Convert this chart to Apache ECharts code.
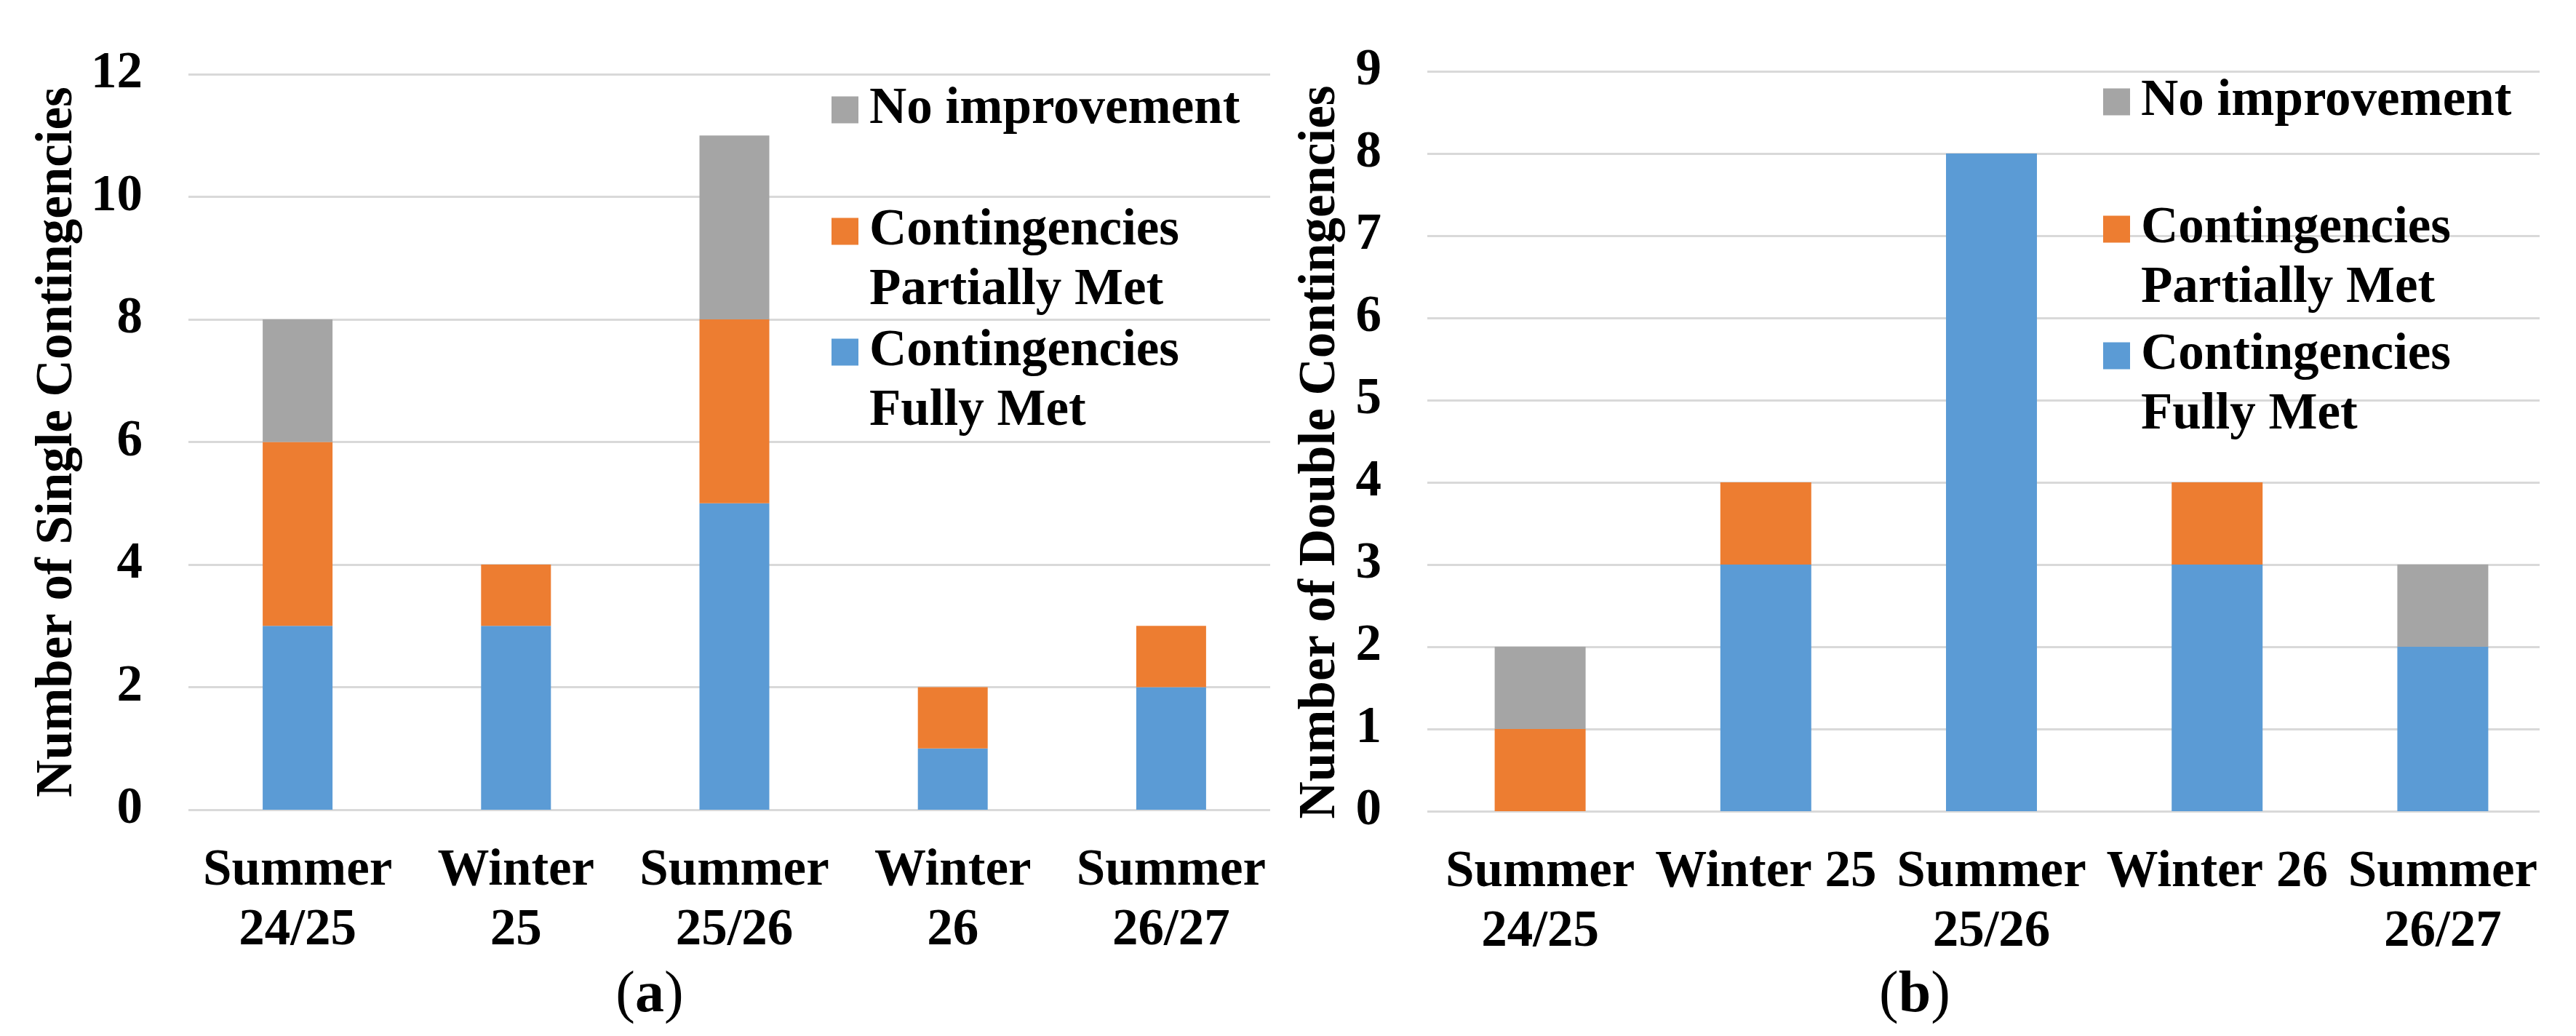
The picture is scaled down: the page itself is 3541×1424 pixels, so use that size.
<!DOCTYPE html>
<html><head><meta charset="utf-8">
<script src="https://cdn.jsdelivr.net/npm/echarts@6/dist/echarts.min.js"></script>
<style>html,body{margin:0;padding:0;background:#fff}#c{width:3541px;height:1424px}</style>
</head><body><div id="c"></div>
<script>
// ---- data ----
const categoriesA = ['Summer\n24/25', 'Winter\n25', 'Summer\n25/26', 'Winter\n26', 'Summer\n26/27'];
const categoriesB = ['Summer\n24/25', 'Winter 25', 'Summer\n25/26', 'Winter 26', 'Summer\n26/27'];
const seriesNames = ['Contingencies Fully Met', 'Contingencies Partially Met', 'No improvement'];
const legendLabels = ['Contingencies\nFully Met', 'Contingencies\nPartially Met', 'No improvement'];
const singleFully   = [3, 3, 5, 1, 2];
const singlePartial = [3, 1, 3, 1, 1];
const singleNone    = [2, 0, 3, 0, 0];
const doubleFully   = [0, 3, 8, 3, 2];
const doublePartial = [1, 1, 0, 1, 0];
const doubleNone    = [1, 0, 0, 0, 1];
const yNameA = 'Number of Single Contingencies';
const yNameB = 'Number of Double Contingencies';
const captionA = 'a';
const captionB = 'b';

// ---- styles ----
const FONT = '"Liberation Serif", "Times New Roman", serif';
const colors = ['#5B9BD5', '#ED7D31', '#A5A5A5'];
const txt = { fontFamily: FONT, fontSize: 71, fontWeight: 'bold', color: '#000' };
const gridLine = { show: true, lineStyle: { color: '#D9D9D9', width: 3 } };

function barAxisY(gridIndex, max, interval, name, nameGap, namePad) {
  return {
    type: 'value', gridIndex, min: 0, max, interval,
    axisLine: { show: false }, axisTick: { show: false }, splitLine: { show: false },
    axisLabel: Object.assign({ margin: 63 }, txt),
    name, nameLocation: 'middle', nameGap,
    nameTextStyle: Object.assign({ padding: namePad }, txt)
  };
}
function lineAxisY(gridIndex, max, interval) {
  return {
    type: 'value', gridIndex, min: 0, max, interval,
    axisLine: { show: false }, axisTick: { show: false }, axisLabel: { show: false },
    splitLine: gridLine
  };
}
function catAxis(gridIndex, data, show) {
  return {
    type: 'category', gridIndex, data, show,
    axisLine: { show: false }, axisTick: { show: false },
    axisLabel: Object.assign({ interval: 0, margin: 44, lineHeight: 82 }, txt)
  };
}
function legendFor(name, left, top) {
  return {
    data: [name], left, top, orient: 'vertical', padding: 0,
    itemWidth: 37, itemHeight: 37, icon: 'rect', selectedMode: false,
    formatter: n => {
      const label = legendLabels[seriesNames.indexOf(n)];
      // multi-line labels: a blank first line keeps the marker level with the first text line
      return label.indexOf('\n') >= 0 ? ' \n' + label : label;
    },
    textStyle: Object.assign({ lineHeight: 82, padding: [0, 0, 0, 10] }, txt)
  };
}
function bars(xi, yi, vals, width) {
  return vals.map((v, i) => ({
    name: seriesNames[i], type: 'bar', stack: 's' + xi, xAxisIndex: xi, yAxisIndex: yi,
    barWidth: width, data: v, itemStyle: { color: colors[i] }, z: 3
  }));
}
function caption(letter, x) {
  return {
    type: 'text', x, y: 1369,
    style: {
      text: '{p|(}{b|' + letter + '}{p|)}', align: 'center', verticalAlign: 'middle',
      rich: {
        p: { fontFamily: FONT, fontSize: 80, fontWeight: 'normal', fill: '#000' },
        b: { fontFamily: FONT, fontSize: 80, fontWeight: 'bold', fill: '#000' }
      }
    }
  };
}

const chart = echarts.init(document.getElementById('c'));
chart.setOption({
  animation: false,
  backgroundColor: '#fff',
  grid: [
    { left: 259, top: 102, width: 1501, height: 1011 },
    { left: 259, top: 102, width: 1487, height: 1011 },
    { left: 1962, top: 98, width: 1551, height: 1017 },
    { left: 1962, top: 98, width: 1529, height: 1017 }
  ],
  xAxis: [
    catAxis(0, categoriesA, true),
    catAxis(1, categoriesA, false),
    catAxis(2, categoriesB, true),
    catAxis(3, categoriesB, false)
  ],
  yAxis: [
    barAxisY(0, 12, 2, yNameA, 144, [0, 0, 0, 0]),
    lineAxisY(1, 12, 2),
    barAxisY(2, 9, 1, yNameB, 111, [0, 30, 0, 0]),
    lineAxisY(3, 9, 1)
  ],
  legend: [
    legendFor('No improvement', 1143, 110),
    legendFor('Contingencies Partially Met', 1143, 195),
    legendFor('Contingencies Fully Met', 1143, 361),
    legendFor('No improvement', 2891, 99),
    legendFor('Contingencies Partially Met', 2891, 192),
    legendFor('Contingencies Fully Met', 2891, 366)
  ],
  series: [].concat(
    bars(0, 0, [singleFully, singlePartial, singleNone], 96),
    bars(2, 2, [doubleFully, doublePartial, doubleNone], 125)
  ),
  graphic: [caption(captionA, 893), caption(captionB, 2632)]
});
</script></body></html>
